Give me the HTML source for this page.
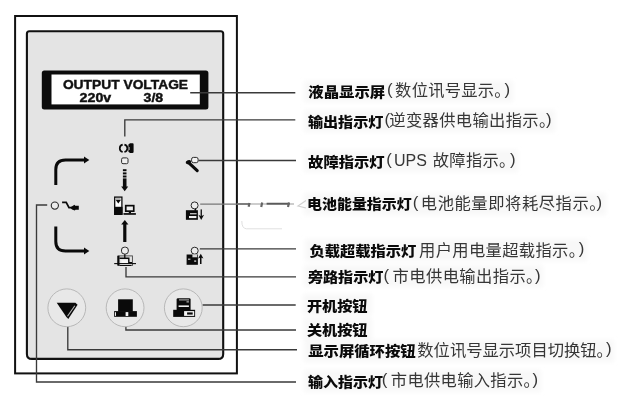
<!DOCTYPE html>
<html lang="zh-CN">
<head>
<meta charset="utf-8">
<title>UPS 面板说明</title>
<style>
html,body{margin:0;padding:0;background:#fff;}
body{width:627px;height:406px;overflow:hidden;}
svg{display:block;filter:grayscale(1);}
.b{font-family:"Liberation Sans","Noto Sans CJK SC",sans-serif;font-weight:900;font-size:14px;fill:#0a0a0a;}
.r{font-family:"Liberation Sans","Noto Sans CJK SC",sans-serif;font-weight:400;font-size:16.3px;fill:#363636;}
.p{font-size:16.8px;font-weight:300;}
.lcd{font-family:"Liberation Sans",sans-serif;font-weight:bold;font-size:13.6px;fill:#111;stroke:#111;stroke-width:0.45;}
.ld{stroke:#3a3a3a;stroke-width:1.35;fill:none;}
</style>
</head>
<body>
<svg width="627" height="406" viewBox="0 0 627 406">
<rect width="627" height="406" fill="#fff"/>
<!-- text halo (scan tint) -->
<defs><filter id="soft" x="-5%" y="-30%" width="110%" height="160%"><feGaussianBlur stdDeviation="2"/></filter></defs>
<g fill="#f8f8f8" filter="url(#soft)">
<rect x="304" y="81" width="209" height="21"/>
<rect x="304" y="110" width="251" height="22"/>
<rect x="304" y="150" width="214" height="22"/>
<rect x="304" y="193" width="302" height="22"/>
<rect x="305" y="239" width="282" height="22"/>
<rect x="304" y="265" width="239" height="22"/>
<rect x="303" y="294" width="69" height="21"/>
<rect x="303" y="318" width="69" height="22"/>
<rect x="304" y="340" width="310" height="22"/>
<rect x="304" y="370" width="237" height="22"/>
</g>
<!-- outer frame -->
<rect x="15.1" y="16" width="221.8" height="357.4" fill="#fff" stroke="#111" stroke-width="2"/>
<!-- inner panel -->
<path d="M29.4 31.2H220.7Q223.2 31.2 223.2 33.7V353.9Q223.2 358.9 218.2 358.9H31.9Q26.9 358.9 26.9 353.9V33.7Q26.9 31.2 29.4 31.2Z" fill="#e4e4e4" stroke="#111" stroke-width="2.1"/>
<!-- LCD -->
<rect x="41.8" y="70.6" width="166.6" height="39" rx="2.5" fill="#0c0c0c"/>
<rect x="51.5" y="74.5" width="148.3" height="29.9" fill="#fff"/>
<g class="lcd">
<text x="62.9" y="88.6" textLength="125.2" lengthAdjust="spacingAndGlyphs">OUTPUT VOLTAGE</text>
<text x="79.6" y="102.4" textLength="31.6" lengthAdjust="spacingAndGlyphs">220v</text>
<text x="143.6" y="102.4" textLength="19.6" lengthAdjust="spacingAndGlyphs">3/8</text>
</g>

<!-- leader lines -->
<g class="ld">
<path d="M190.2 92.7H295.3"/>
<path d="M124.8 136.5V119.8H295.3"/>
<path d="M198.5 160.5H296"/>
<path d="M200.2 204.1H237" stroke="#777"/>
<path d="M237 204H294" stroke="#bcbcbc"/>
<path d="M237 204H249" stroke="#585858"/>
<path d="M266.6 203.7H289.6" stroke="#5a5a5a" stroke-width="1.9"/>
<path d="M249.6 203L248.6 206.8M262.2 202.6L261.2 207M289 202.6L288 207" stroke="#666" stroke-width="2.2"/>
<path d="M306 200.5L298 206L306 208" stroke="#d0d0d0" stroke-width="1.2"/>
<path d="M241.8 221Q241.8 228.6 246.5 228.8H282" stroke="#e0e0e0" stroke-width="1"/>
<path d="M199.8 248.85H296"/>
<path d="M126 267V276.8H296"/>
<path d="M202.5 304.95H295.7"/>
<path d="M125.9 324.6V329.95H296"/>
<path d="M67.8 325.5V349.7H297"/>
<path d="M47.2 205H36.5V381.95H296"/>
</g>

<!-- left arrows -->
<g fill="none" stroke="#0a0a0a" stroke-width="3">
<path d="M55.8 185V169.5Q55.8 160 65.5 160H85"/>
<path d="M55.8 226.5V241.5Q55.8 251 65.5 251H85"/>
</g>
<path d="M84 156.6L89.3 160L84 163.4Z" fill="#0a0a0a"/>
<path d="M84 247.6L89.3 251L84 254.4Z" fill="#0a0a0a"/>
<!-- input led -->
<circle cx="54.85" cy="205.6" r="3.6" fill="#ececec" stroke="#2a2a2a" stroke-width="1.1"/>
<path d="M62.1 202.4H66.2L69 207.6H72.5" fill="none" stroke="#0a0a0a" stroke-width="1.8"/>
<path d="M70.2 207.6L74.5 204.8L75.2 205.8H78.8V209.7H75.5L74.8 210.6L72 209.4Z" fill="#0a0a0a"/>

<!-- centre column -->
<path d="M122.7 144.6A3.8 3.8 0 0 0 122.7 152" fill="none" stroke="#0a0a0a" stroke-width="1.7"/>
<path d="M124.4 144.6A3.8 3.8 0 0 1 124.4 152" fill="none" stroke="#0a0a0a" stroke-width="1.7"/>
<path d="M128.4 144.6L130 143.3H132.6Q133.6 143.3 133.6 144.5V151.8Q133.6 153 132.4 153H130L128.4 151.8Z" fill="#0a0a0a"/>
<rect x="128.2" y="147" width="1.8" height="3" fill="#777"/>
<rect x="121.6" y="157.9" width="6.4" height="5.8" rx="1.4" fill="#f0f0f0" stroke="#2a2a2a" stroke-width="1"/>
<g fill="#0a0a0a">
<rect x="122.9" y="169.2" width="3.6" height="2"/>
<rect x="122.9" y="172.4" width="3.6" height="2"/>
<rect x="122.9" y="175.5" width="3.6" height="2"/>
<rect x="122.9" y="178.4" width="3.6" height="9"/>
<path d="M121.2 186.6H128.2L124.7 191.2Z"/>
</g>
<!-- UPS + computer -->
<rect x="114.7" y="197.1" width="7.2" height="17.2" fill="#fff" stroke="#0a0a0a" stroke-width="1.3"/>
<rect x="114.1" y="206.8" width="8.4" height="8" fill="#0a0a0a"/>
<rect x="116" y="198.3" width="4.6" height="1" fill="#999"/>
<path d="M115.6 199.8H121L118.3 203.6Z" fill="#0a0a0a"/>
<rect x="125.75" y="205.65" width="8" height="5.5" fill="#eee" stroke="#0a0a0a" stroke-width="1.7"/>
<rect x="128.8" y="211.8" width="2.2" height="1.6" fill="#0a0a0a"/>
<rect x="123.5" y="213.1" width="12.4" height="1.7" fill="#0a0a0a"/>
<!-- up arrow -->
<rect x="123.2" y="223" width="3.2" height="19" fill="#0a0a0a"/>
<path d="M121.2 224.6H128.4L124.8 220Z" fill="#0a0a0a"/>
<!-- bypass -->
<rect x="121.5" y="247.2" width="6.8" height="6.8" rx="2.8" fill="#ececec" stroke="#2a2a2a" stroke-width="1"/>
<rect x="118.2" y="255.9" width="14.2" height="9.6" fill="none" stroke="#444" stroke-width="0.9"/>
<rect x="117.3" y="255.8" width="2.2" height="9.7" fill="#0a0a0a"/>
<path d="M119.4 258.3H128.8V262.6H132" fill="none" stroke="#0a0a0a" stroke-width="1.4"/>
<rect x="121.4" y="260.2" width="6.4" height="4.4" fill="#f6f6f6"/>
<path d="M124.8 254.2V258.3" stroke="#0a0a0a" stroke-width="1.3"/>
<path d="M114.2 263.6H136" stroke="#0a0a0a" stroke-width="1.1"/>
<path d="M120 265.5H131" stroke="#0a0a0a" stroke-width="1"/>

<!-- right column -->
<path d="M188.6 162.6L197.2 170.6" stroke="#0a0a0a" stroke-width="3.1" stroke-linecap="round"/>
<ellipse cx="188.4" cy="162.1" rx="2.8" ry="1.9" transform="rotate(-20 188.4 162.1)" fill="#0a0a0a"/>
<rect x="191.6" y="157.4" width="6.5" height="5.3" rx="1.8" fill="#f2f2f2" stroke="#2a2a2a" stroke-width="1"/>
<!-- battery low -->
<circle cx="194.6" cy="205.4" r="3.5" fill="#ececec" stroke="#2a2a2a" stroke-width="1"/>
<rect x="194.6" y="208.8" width="1.6" height="2" fill="#0a0a0a"/>
<rect x="185.9" y="210.2" width="12" height="9.6" fill="#0a0a0a"/>
<rect x="190" y="213.2" width="6.6" height="1.1" fill="#e8e8e8"/>
<rect x="189" y="216" width="7.4" height="2.1" fill="#f0f0f0"/>
<rect x="200.6" y="209.4" width="1.3" height="8" fill="#0a0a0a"/>
<path d="M198.4 214.8L201.2 216.2L204.1 214.8L201.2 220Z" fill="#0a0a0a"/>
<!-- overload -->
<circle cx="194.7" cy="250.7" r="3.5" fill="#ececec" stroke="#2a2a2a" stroke-width="1"/>
<rect x="186.6" y="254.5" width="11.3" height="10.3" fill="#0a0a0a"/>
<rect x="192.4" y="254.3" width="4.8" height="3" fill="#d8d8d8"/>
<rect x="188" y="258.6" width="2.4" height="1.2" fill="#ccc"/>
<rect x="194.2" y="260.4" width="2" height="1.4" fill="#ccc"/>
<rect x="200" y="256" width="1.5" height="8" fill="#0a0a0a"/>
<path d="M198 258.4L200.8 253.8L203.4 258.4L200.8 257.4Z" fill="#0a0a0a"/>

<!-- buttons -->
<g fill="#e8e8e8" stroke="#b8b8b8" stroke-width="1">
<circle cx="66.8" cy="307.8" r="18.9"/>
<circle cx="125.1" cy="307.8" r="18.9"/>
<circle cx="183.3" cy="307.8" r="18.9"/>
</g>
<path d="M56.7 302.8H75.4L77.6 304.7L68.3 319L66.4 317Z" fill="#0a0a0a"/>
<path d="M74.8 305.8L67.5 316.2" stroke="#bdbdbd" stroke-width="1.1"/>
<rect x="118.1" y="299.3" width="14.7" height="12.4" fill="#0a0a0a"/>
<rect x="114.1" y="311.1" width="22.8" height="5.7" fill="#0a0a0a"/>
<rect x="114.9" y="312.2" width="1.1" height="3.7" fill="#eee"/>
<rect x="125.6" y="312.1" width="2.7" height="3.9" fill="#f4f4f4"/>
<path d="M176.6 310V299.6Q176.6 298.2 178 298.2H189.2Q190.6 298.2 190.6 299.6V310Z" fill="#0a0a0a"/>
<rect x="173.2" y="309.8" width="21.9" height="7.1" fill="#0a0a0a"/>
<rect x="179" y="299.4" width="10" height="1" fill="#bbb"/>
<rect x="186.5" y="301.2" width="2.4" height="1.3" fill="#aaa"/>
<rect x="178.6" y="305.4" width="10.3" height="1.6" fill="#eee"/>
<rect x="184.1" y="311.1" width="10.1" height="4.8" fill="#f4f4f4"/>
<rect x="187.1" y="312.4" width="5.6" height="2.2" fill="#0a0a0a"/>

<!-- labels -->
<g class="b">
<text x="308.3" y="96.75" textLength="76.8" lengthAdjust="spacingAndGlyphs">液晶显示屏</text>
<text x="307.9" y="126.6" textLength="75.5" lengthAdjust="spacingAndGlyphs">输出指示灯</text>
<text x="308.1" y="166.55" textLength="76.5" lengthAdjust="spacingAndGlyphs">故障指示灯</text>
<text x="307.1" y="209.3" textLength="104.5" lengthAdjust="spacingAndGlyphs">电池能量指示灯</text>
<text x="309.4" y="256.0" textLength="107.0" lengthAdjust="spacingAndGlyphs">负载超载指示灯</text>
<text x="307.9" y="282.2" textLength="75.5" lengthAdjust="spacingAndGlyphs">旁路指示灯</text>
<text x="306.9" y="310.55" textLength="60.5" lengthAdjust="spacingAndGlyphs">开机按钮</text>
<text x="306.9" y="335.05" textLength="60.5" lengthAdjust="spacingAndGlyphs">关机按钮</text>
<text x="308.2" y="356.05" textLength="107.5" lengthAdjust="spacingAndGlyphs">显示屏循环按钮</text>
<text x="307.9" y="386.5" textLength="75.0" lengthAdjust="spacingAndGlyphs">输入指示灯</text>
</g>
<g class="r">
<text class="p" x="387.0" y="95.15">(</text><text x="395.1" y="96.45" textLength="115.5" lengthAdjust="spacing">数位讯号显示。</text><text class="p" x="504.6" y="95.15">)</text>
<text class="p" x="384.4" y="125.0">(</text><text x="389.3" y="126.3" textLength="166" lengthAdjust="spacing">逆变器供电输出指示。</text><text class="p" x="546.1" y="125.0">)</text>
<text class="p" x="386.2" y="164.95">(</text><text x="394" y="166.25" font-size="16">UPS</text><text x="432.8" y="166.25" textLength="82.5" lengthAdjust="spacing">故障指示。</text><text class="p" x="509.9" y="164.95">)</text>
<text class="p" x="412.8" y="207.7">(</text><text x="420.8" y="209.0" textLength="184.8" lengthAdjust="spacing">电池能量即将耗尽指示。</text><text class="p" x="596.6" y="207.7">)</text>
<text x="419.0" y="255.7" textLength="166" lengthAdjust="spacing">用户用电量超载指示。</text><text class="p" x="578.8" y="254.4">)</text>
<text class="p" x="383.5" y="280.6">(</text><text x="392.6" y="281.9" textLength="149.8" lengthAdjust="spacing">市电供电输出指示。</text><text class="p" x="535.1" y="280.6">)</text>
<text x="417.3" y="355.75" textLength="195.6" lengthAdjust="spacing">数位讯号显示项目切换钮。</text><text class="p" x="606.0" y="354.45">)</text>
<text class="p" x="381.7" y="384.9">(</text><text x="390.8" y="386.2" textLength="149" lengthAdjust="spacing">市电供电输入指示。</text><text class="p" x="532.6" y="384.9">)</text>
</g>
</svg>
</body>
</html>
